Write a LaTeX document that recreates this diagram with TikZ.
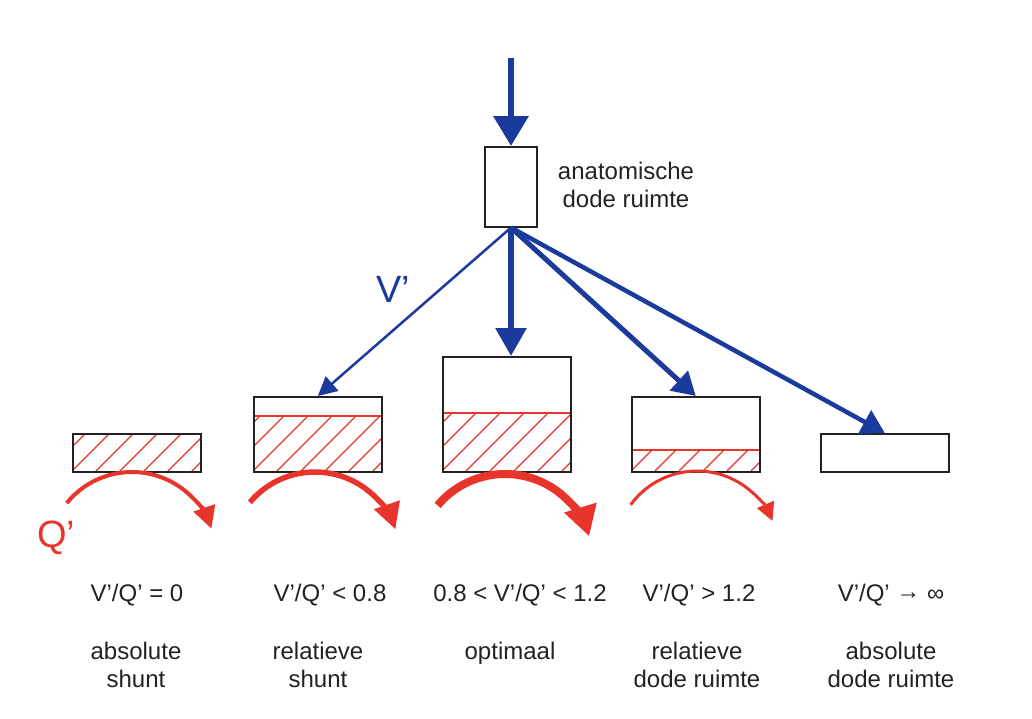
\documentclass[tikz,border=0pt]{standalone}
\usepackage{fontspec}
\setmainfont{Liberation Sans}
\usetikzlibrary{arrows.meta}
\definecolor{myblue}{HTML}{1A3A9C}
\definecolor{myred}{HTML}{E8352B}
\definecolor{txt}{HTML}{222222}
\tikzset{
  lbl/.style={font=\fontsize{24}{28}\selectfont, align=center, text=txt, inner sep=0pt},
  boxst/.style={draw=txt, line width=1.6pt, inner sep=0pt, anchor=north west},
  hatchln/.style={myred, line width=1.1pt},
  sepln/.style={myred, line width=1.4pt},
  bluarr/.style={myblue, line width=#1},
  redarc/.style={myred, line width=#1},
}
\begin{document}
\begin{tikzpicture}[x=1pt,y=-1pt]
\useasboundingbox (0,0) rectangle (1032,718);

% hatching
\begin{scope}
  \clip (72,433) rectangle (200,471);
  \foreach \i in {-2,...,6} \draw[hatchln] (72+\i*24,471) -- ++(60,-60);
\end{scope}
\begin{scope}
  \clip (253,416) rectangle (381,471);
  \foreach \i in {-3,...,6} \draw[hatchln] (253+\i*24,471) -- ++(80,-80);
\end{scope}
\begin{scope}
  \clip (442,413) rectangle (570,471);
  \foreach \i in {-3,...,6} \draw[hatchln] (442+\i*24,471) -- ++(80,-80);
\end{scope}
\begin{scope}
  \clip (631,450) rectangle (759,471);
  \foreach \i in {-2,...,6} \draw[hatchln] (631+\i*24,471) -- ++(40,-40);
\end{scope}
\draw[sepln] (253,416) -- (381,416);
\draw[sepln] (442,413) -- (570,413);
\draw[sepln] (631,450) -- (759,450);

% boxes
\node[boxst, minimum width=52pt, minimum height=80pt, anchor=north] (ad) at (511,146) {};
\node[boxst, minimum width=128pt, minimum height=38pt] (b1) at (72,433) {};
\node[boxst, minimum width=128pt, minimum height=75pt] (b2) at (253,396) {};
\node[boxst, minimum width=128pt, minimum height=115pt] (b3) at (442,356) {};
\node[boxst, minimum width=128pt, minimum height=75pt] (b4) at (631,396) {};
\node[boxst, minimum width=128pt, minimum height=38pt] (b5) at (820,433) {};

\node[lbl, anchor=base] (adl) at (626,207) {anatomische\\[0pt]dode ruimte};

% blue arrows
\coordinate (top) at (511,58);
\draw[bluarr=6.5pt, -{Triangle[length=30pt,width=34pt]}] (top) -- (ad.north);
\draw[bluarr=2.5pt, -{Triangle[length=19pt,width=19pt]}] (ad.south) -- (b2.north);
\draw[bluarr=6pt, -{Triangle[length=28pt,width=30pt]}] (ad.south) -- (b3.north -| ad.south);
\draw[bluarr=5pt, -{Triangle[length=23pt,width=26pt]}] (ad.south) -- (b4.north);
\draw[bluarr=4.5pt, -{Triangle[length=23pt,width=26pt]}] (ad.south) -- (b5.north);
\node[font=\fontsize{38}{40}\selectfont, text=myblue, anchor=base, inner sep=0pt] (vl) at (393,302) {V’};

% red arcs
\draw[redarc=4pt, -{Triangle[length=22pt,width=22pt]}] (132,556) ++(219:84) arc[start angle=219, end angle=341, radius=84];
\draw[redarc=5.5pt, -{Triangle[length=26pt,width=26pt]}] (315,557) ++(220:85) arc[start angle=220, end angle=341, radius=85];
\draw[redarc=8pt, -{Triangle[length=30pt,width=32pt]}] (505,562) ++(220:88) arc[start angle=220, end angle=343, radius=88];
\draw[redarc=3pt, -{Triangle[length=18pt,width=18pt]}] (697,553) ++(216:82) arc[start angle=216, end angle=337, radius=82];
\node[font=\fontsize{38}{40}\selectfont, text=myred, anchor=base, inner sep=0pt] (ql) at (56,547) {Q’};

% labels
\node[lbl, anchor=base] (r1) at (137,601) {V’/Q’ = 0};
\node[lbl, anchor=base] (r2) at (330,601) {V’/Q’ < 0.8};
\node[lbl, anchor=base] (r3) at (520,601) {0.8 < V’/Q’ < 1.2};
\node[lbl, anchor=base] (r4) at (699,601) {V’/Q’ > 1.2};
\node[lbl, anchor=base] (r5) at (891,601) {V’/Q’ \raisebox{2pt}{→} ∞};

\node[lbl, anchor=base] (d1) at (136,687) {absolute\\[0pt]shunt};
\node[lbl, anchor=base] (d2) at (318,687) {relatieve\\[0pt]shunt};
\node[lbl, anchor=base] (d3) at (510,659) {optimaal};
\node[lbl, anchor=base] (d4) at (697,687) {relatieve\\[0pt]dode ruimte};
\node[lbl, anchor=base] (d5) at (891,687) {absolute\\[0pt]dode ruimte};
\end{tikzpicture}
\end{document}
